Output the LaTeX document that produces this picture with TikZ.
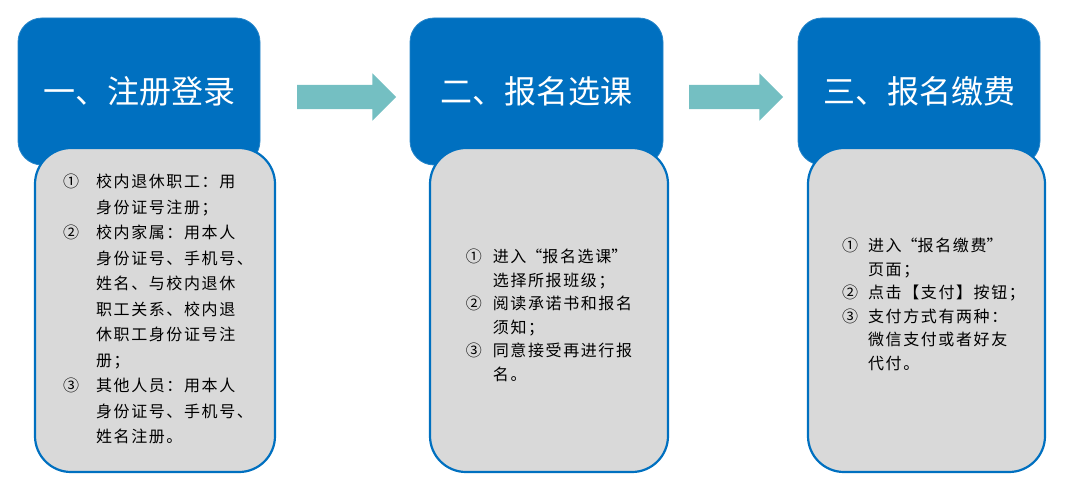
\documentclass[tikz,border=0pt]{standalone}
\usepackage{fontspec}
\setmainfont{Noto Sans CJK SC}
\newfontfamily\notefont[LetterSpace=10]{Noto Sans CJK SC}
\usetikzlibrary{shapes.arrows}
\definecolor{stepblue}{HTML}{0070C0}
\definecolor{notegray}{HTML}{D9D9D9}
\definecolor{arrowteal}{HTML}{74BFC2}
\newcommand{\steplist}[2]{\begin{tabular}{@{}p{#1}@{}l@{}}#2\end{tabular}}
\newcommand{\wq}[1]{\makebox[1em]{#1}}

\begin{document}
\begin{tikzpicture}[x=1pt, y=-1pt,
	titlebox/.style={fill=stepblue, draw=stepblue!85!white, line width=0.8pt, rounded corners=24pt, text=white, inner sep=0pt, minimum height=147pt, font=\fontsize{32}{32}\selectfont},
	notebox/.style={fill=notegray, draw=stepblue, line width=2.2pt, rounded corners=36pt, minimum height=324pt},
	notetext/.style={inner sep=0pt, font=\notefont\fontsize{16}{#1}\selectfont},
	flowarrow/.style={single arrow, fill=arrowteal, inner xsep=0pt, inner ysep=12pt, single arrow head extend=11.5pt, minimum width=47pt}]
			%%%%% START %%%%%
			
			\useasboundingbox (0, 0) rectangle (1070, 495);
			
			\node[titlebox, minimum width=242pt] (step1) at (139, 91.5) {一、注册登录};
			\node[titlebox, minimum width=253pt] (step2) at (536.5, 91.5) {二、报名选课};
			\node[titlebox, minimum width=242pt] (step3) at (919, 91.5) {三、报名缴费};
			
			\node[notebox, minimum width=240pt] (body1) at (155, 310) {};
			\node[notebox, minimum width=238pt] (body2) at (549, 310) {};
			\node[notebox, minimum width=237pt] (body3) at (926.5, 310) {};
			
			\node[flowarrow, minimum height=99pt] (arrow1) at (340.5, 97) {};
			\node[flowarrow, minimum height=94pt] (arrow2) at (730, 97) {};
			
			\node[notetext=25.5, xshift=3pt] (list1) at (body1.center) {\steplist{33pt}{
				① & 校内退休职工：用\\
				  & 身份证号注册；\\
				② & 校内家属：用本人\\
				  & 身份证号、手机号、\\
				  & 姓名、与校内退休\\
				  & 职工关系、校内退\\
				  & 休职工身份证号注\\
				  & 册；\\
				③ & 其他人员：用本人\\
				  & 身份证号、手机号、\\
				  & 姓名注册。}};
			
			\node[notetext=23.5, yshift=-7pt] (list2) at (body2.center) {\steplist{27pt}{
				① & 进入\wq{“}报名选课\wq{”}\\
				  & 选择所报班级；\\
				② & 阅读承诺书和报名\\
				  & 须知；\\
				③ & 同意接受再进行报\\
				  & 名。}};
			
			\node[notetext=23.5, xshift=7pt, yshift=4pt] (list3) at (body3.center) {\steplist{26pt}{
				① & 进入\wq{“}报名缴费\wq{”}\\
				  & 页面；\\
				② & 点击【支付】按钮；\\
				③ & 支付方式有两种：\\
				  & 微信支付或者好友\\
				  & 代付。}};
			
			%%%%% END %%%%%
\end{tikzpicture}
\end{document}
